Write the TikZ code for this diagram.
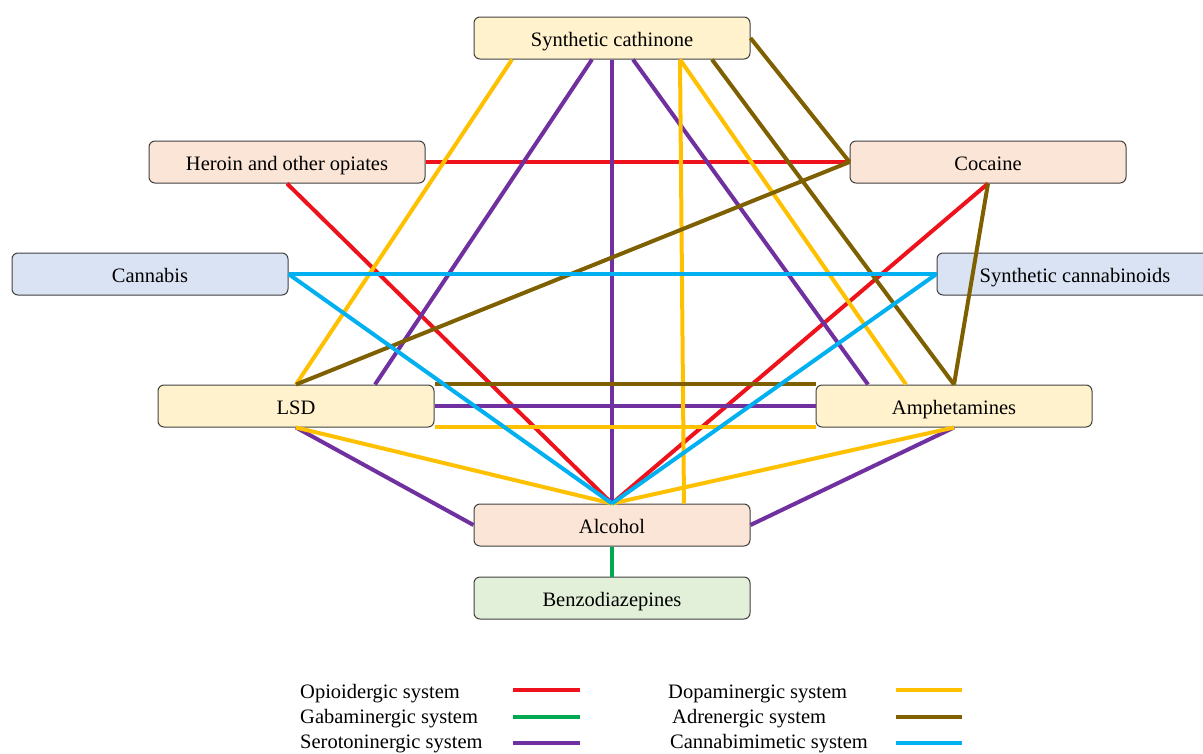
\documentclass[tikz,border=0pt]{standalone}
\usepackage{fontspec}
\setmainfont{Liberation Serif}
\usetikzlibrary{calc}
\definecolor{opioid}{RGB}{238,18,28}
\definecolor{gaba}{RGB}{0,168,80}
\definecolor{sero}{RGB}{112,48,160}
\definecolor{dopa}{RGB}{255,192,0}
\definecolor{adren}{RGB}{127,96,0}
\definecolor{canna}{RGB}{0,176,240}
\definecolor{fillgold}{RGB}{255,242,204}
\definecolor{fillpeach}{RGB}{251,229,214}
\definecolor{fillblue}{RGB}{218,227,243}
\definecolor{fillgreen}{RGB}{226,240,217}
\definecolor{boxline}{RGB}{64,64,64}
\tikzset{
  drugbox/.style={draw=boxline, line width=1pt, rounded corners=6pt,
    minimum width=276, minimum height=42, inner sep=0pt,
    text height=18pt, text depth=2pt,
    font=\fontsize{20.5}{24}\selectfont},
  legtext/.style={anchor=west, inner sep=0pt, font=\fontsize{20.5}{24}\selectfont},
  link/.style={line width=4pt}
}
\begin{document}
\begin{tikzpicture}[x=1pt,y=-1pt]
	\useasboundingbox (0,0) rectangle (1203,753);
	% substances
	\node [drugbox, fill=fillgold] (cath) at (612,38) {Synthetic cathinone};
	\node [drugbox, fill=fillpeach] (heroin) at (287,162) {Heroin and other opiates};
	\node [drugbox, fill=fillpeach] (cocaine) at (988,162) {Cocaine};
	\node [drugbox, fill=fillblue] (cannabis) at (150,274) {Cannabis};
	\node [drugbox, fill=fillblue] (syncann) at (1075,274) {Synthetic cannabinoids};
	\node [drugbox, fill=fillgold] (lsd) at (296,406) {LSD};
	\node [drugbox, fill=fillgold] (amph) at (954,406) {Amphetamines};
	\node [drugbox, fill=fillpeach] (alcohol) at (612,525) {Alcohol};
	\node [drugbox, fill=fillgreen] (benzo) at (612,598) {Benzodiazepines};
	% opioidergic
	\draw [link, opioid] (heroin.east) -- (cocaine.west);
	\draw [link, opioid] (heroin.south) -- (alcohol.north);
	\draw [link, opioid] (cocaine.south) -- (alcohol.north);
	% gabaminergic
	\draw [link, gaba] (alcohol.south) -- (benzo.north);
	% serotoninergic
	\draw [link, sero] ($(cath.south)+(-20,0)$) -- ($(lsd.north)+(79,0)$);
	\draw [link, sero] (cath.south) -- (alcohol.north);
	\draw [link, sero] ($(cath.south)+(21,0)$) -- ($(amph.north)+(-86,0)$);
	\draw [link, sero] (lsd.east) -- (amph.west);
	\draw [link, sero] (lsd.south) -- (alcohol.west);
	\draw [link, sero] (amph.south) -- (alcohol.east);
	% dopaminergic
	\draw [link, dopa] ($(cath.south)+(-100,0)$) -- (lsd.north);
	\draw [link, dopa] ($(cath.south)+(68,0)$) -- ($(alcohol.north)+(72,0)$);
	\draw [link, dopa] ($(cath.south)+(68,0)$) -- ($(amph.north)+(-48,0)$);
	\draw [link, dopa] ($(lsd.south east)+(0,-1)$) -- ($(amph.south west)+(0,-1)$);
	\draw [link, dopa] (lsd.south) -- (alcohol.north);
	\draw [link, dopa] (amph.south) -- (alcohol.north);
	% adrenergic
	\draw [link, adren] (cath.east) -- (cocaine.west);
	\draw [link, adren] ($(cath.south)+(100,0)$) -- (amph.north);
	\draw [link, adren] (cocaine.west) -- (lsd.north);
	\draw [link, adren] (cocaine.south) -- (amph.north);
	\draw [link, adren] ($(lsd.north east)+(0,-1)$) -- ($(amph.north west)+(0,-1)$);
	% cannabimimetic
	\draw [link, canna] (cannabis.east) -- (syncann.west);
	\draw [link, canna] (cannabis.east) -- (alcohol.north);
	\draw [link, canna] (syncann.west) -- (alcohol.north);
	% legend
	\node [legtext] (lopi) at (300,694) {Opioidergic system};
	\node [legtext] (lgaba) at (300,719) {Gabaminergic system};
	\node [legtext] (lsero) at (300,744) {Serotoninergic system};
	\node [legtext] (ldopa) at (668,694) {Dopaminergic system};
	\node [legtext] (ladren) at (672,719) {Adrenergic system};
	\node [legtext] (lcanna) at (670,744) {Cannabimimetic system};
	\coordinate (kopi) at (513,690);
	\coordinate (kgaba) at (513,717);
	\coordinate (ksero) at (513,743);
	\coordinate (kdopa) at (896,690);
	\coordinate (kadren) at (896,717);
	\coordinate (kcanna) at (896,743);
	\draw [link, opioid] (kopi) -- ++(67,0);
	\draw [link, gaba] (kgaba) -- ++(67,0);
	\draw [link, sero] (ksero) -- ++(67,0);
	\draw [link, dopa] (kdopa) -- ++(66,0);
	\draw [link, adren] (kadren) -- ++(66,0);
	\draw [link, canna] (kcanna) -- ++(66,0);
\end{tikzpicture}
\end{document}
